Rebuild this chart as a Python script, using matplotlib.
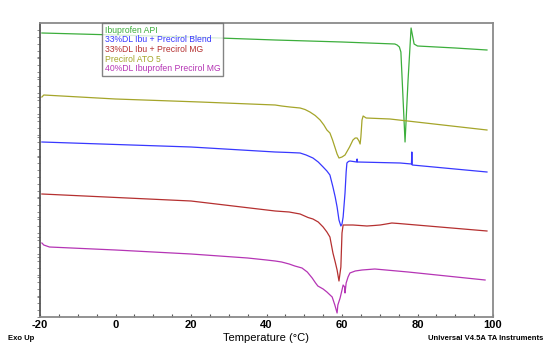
import matplotlib
matplotlib.use('Agg')
import matplotlib.pyplot as plt

# DSC traces, temperature (C) vs heat flow (arbitrary units, exo up)
api_t = [-19.5, 0, 20, 42.3, 60, 74.0, 74.6, 75.2, 75.6, 76.7, 77.5, 78.3, 79.1, 80, 90, 98.4]
api_hf = [284, 282, 280, 277, 275, 273, 272, 270, 265, 175, 237, 289, 273, 271, 269, 267]

blend_t = [-19.5, 20, 42.3, 46, 48.9, 50.5, 52.3, 53.7, 55.0, 56.0, 56.8, 57.6, 58.2, 58.7,
           59.2, 59.7, 60.0, 60.3, 60.8, 61.1, 61.3, 61.7, 62.1, 63.9, 64.0, 64.1,
           75.4, 78.4, 78.5, 78.6, 98.4]
blend_hf = [175, 170, 165, 164.5, 164, 162, 159, 155, 150, 146, 142, 130, 120, 110,
            97, 91, 93, 100, 124, 145, 154, 155.5, 156, 155, 158, 155,
            154, 153, 165, 152, 145]

mg_t = [-19.5, 20, 42.3, 46, 48.9, 51.0, 52.3, 53.7, 55.0, 56.0, 56.8, 57.6, 58.2, 58.7,
        59.2, 59.7, 60.0, 60.3, 61.0, 62.9, 64.8, 66.6, 68.5, 70.1, 71.7, 73.2, 75.0, 98.4]
mg_hf = [123, 116, 106, 105, 103, 99.5, 98, 95, 90, 85, 80, 64, 55, 47,
         36, 50, 84, 92, 92, 92, 91.5, 91, 91.5, 92, 93, 94, 93.5, 86]

ato_t = [-19.5, -19.0, 0, 22.4, 42.3, 44, 46.2, 48.9, 50.2, 51.5, 52.9, 54.2, 55.2, 56.0,
         56.8, 57.5, 58.1, 58.7, 59.2, 60.0, 60.8, 62.0, 62.9, 63.5, 64.0, 64.5, 64.8,
         65.0, 65.3, 65.6, 66.4, 72.7, 98.4]
ato_hf = [220, 222, 218, 215, 212, 211, 210, 209, 207.5, 205, 201.5, 197, 192, 187,
          184, 177, 170, 163, 159, 160, 162, 170, 177, 179, 179, 176, 173,
          180, 197, 201, 199, 198, 187]

dl40_t = [-19.5, -19.0, -17.5, 0, 20, 35, 40, 42.3, 44, 46, 47.5, 49.4, 50.8, 52.1, 53.0,
          53.6, 55.0, 56.0, 57.4, 58.1, 58.7, 58.9, 59.5, 60.0, 60.3, 60.7, 60.8, 61.1,
          61.6, 62.1, 63.5, 65.3, 68.7, 77.5, 97.9]
dl40_hf = [74, 72, 70, 67, 63, 59, 57, 56, 55, 53, 51, 49, 45, 39, 34,
           31, 28, 25, 20, 12, 4, 12, 19, 27, 32, 30, 24, 34,
           40, 44, 46, 47, 48, 45, 37]

series = [
    ('Ibuprofen API', api_t, api_hf, '#3cae3c'),
    ('33%DL Ibu + Precirol Blend', blend_t, blend_hf, '#3838ff'),
    ('33%DL Ibu + Precirol MG', mg_t, mg_hf, '#b53030'),
    ('Precirol ATO 5', ato_t, ato_hf, '#a5a52a'),
    ('40%DL Ibuprofen Precirol MG', dl40_t, dl40_hf, '#b535b5'),
]

plt.rcParams['font.family'] = ['Liberation Sans', 'DejaVu Sans']
plt.rcParams['axes.unicode_minus'] = False

fig = plt.figure(figsize=(5.5, 3.54), dpi=100)
ax = fig.add_axes([40 / 550, 37 / 354, 453 / 550, 294 / 354])

for label, t, hf, color in series:
    ax.plot(t, hf, color=color, lw=0.9, label=label)

ax.set_xlim(-20, 100)
ax.set_ylim(0, 294)
ax.set_xticks(range(-20, 101, 20))
ax.set_xticks(range(-20, 101, 5), minor=True)
ax.set_yticks(range(0, 294, 20))
ax.set_yticks(range(0, 294, 7), minor=True)
ax.set_yticklabels([])
ax.tick_params(axis='x', which='both', direction='in', length=2, width=0.8,
               colors='#555555', labelcolor='black', labelsize=8, pad=2)
ax.tick_params(axis='y', which='both', direction='out', length=2, width=0.6,
               colors='#777777')
for lbl in ax.get_xticklabels():
    lbl.set_fontweight('bold')
for sp in ax.spines.values():
    sp.set_color('#8a8a8a')
    sp.set_linewidth(1.3)
ax.spines['left'].set_color('#555555')

leg = ax.legend(loc='upper left', bbox_to_anchor=(62 / 453, 1.0), handlelength=0,
                handletextpad=0, labelcolor='linecolor', fontsize=6.2,
                frameon=True, fancybox=False, borderpad=0.3, labelspacing=0.08,
                borderaxespad=0, edgecolor='#666666')
leg.get_frame().set_linewidth(1.0)
for h in leg.legend_handles:
    h.set_visible(False)

fig.text(266 / 550, 1 - 338 / 354, 'Temperature (°C)', ha='center', va='center', fontsize=8)
fig.text(8 / 550, 1 - 338 / 354, 'Exo Up', ha='left', va='center', fontsize=5.5,
         fontweight='bold')
fig.text(543 / 550, 1 - 338 / 354, 'Universal V4.5A TA Instruments', ha='right',
         va='center', fontsize=5.5, fontweight='bold')

fig.savefig('out.png', dpi=100)
